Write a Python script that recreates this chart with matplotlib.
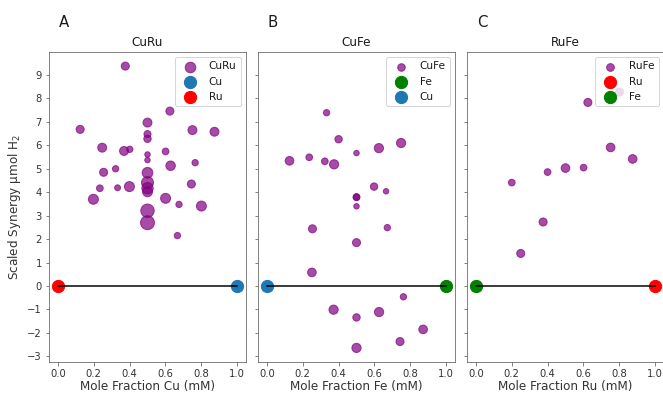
import matplotlib.pyplot as plt

# CuRu mixtures: mole fraction Cu, scaled synergy, marker size
curu_x = [0.376, 0.124, 0.5, 0.625, 0.751, 0.874, 0.5, 0.5, 0.247, 0.369, 0.401,
          0.601, 0.5, 0.5, 0.629, 0.766, 0.322, 0.255, 0.5, 0.5, 0.5, 0.5,
          0.745, 0.399, 0.333, 0.234, 0.198, 0.601, 0.676, 0.801, 0.5, 0.5, 0.667]
curu_y = [9.38, 6.68, 6.97, 7.46, 6.65, 6.58, 6.48, 6.28, 5.90, 5.76, 5.83,
          5.74, 5.61, 5.37, 5.13, 5.26, 5.00, 4.85, 4.83, 4.41, 4.17, 4.02,
          4.35, 4.24, 4.19, 4.17, 3.70, 3.74, 3.48, 3.41, 3.21, 2.70, 2.15]
curu_s = [65, 65, 80, 65, 80, 80, 50, 55, 80, 80, 40,
          45, 30, 30, 90, 40, 40, 65, 115, 145, 130, 100,
          65, 100, 35, 45, 100, 100, 40, 100, 180, 195, 40]

# CuFe mixtures: mole fraction Fe
cufe_x = [0.333, 0.40, 0.625, 0.749, 0.5, 0.126, 0.236, 0.323, 0.375, 0.598,
          0.665, 0.5, 0.5, 0.5, 0.254, 0.672, 0.5, 0.251, 0.762, 0.372,
          0.626, 0.5, 0.872, 0.743, 0.5]
cufe_y = [7.39, 6.26, 5.88, 6.10, 5.67, 5.34, 5.49, 5.32, 5.19, 4.24,
          4.04, 3.78, 3.80, 3.40, 2.44, 2.49, 1.85, 0.58, -0.46, -1.01,
          -1.11, -1.34, -1.85, -2.37, -2.64]
cufe_s = [40, 55, 85, 85, 30, 75, 45, 45, 85, 55,
          30, 45, 45, 30, 65, 40, 65, 75, 40, 85,
          85, 55, 75, 65, 85]

# RuFe mixtures: mole fraction Ru
rufe_x = [0.625, 0.801, 0.752, 0.875, 0.5, 0.601, 0.40, 0.20, 0.375, 0.25]
rufe_y = [7.83, 8.27, 5.91, 5.42, 5.03, 5.05, 4.86, 4.41, 2.73, 1.39]
rufe_s = [65, 65, 75, 75, 75, 45, 45, 45, 65, 65]

panels = [
    ('A', 'CuRu', 'Cu', curu_x, curu_y, curu_s, ('Cu', 'C0'), ('Ru', 'red')),
    ('B', 'CuFe', 'Fe', cufe_x, cufe_y, cufe_s, ('Fe', 'green'), ('Cu', 'C0')),
    ('C', 'RuFe', 'Ru', rufe_x, rufe_y, rufe_s, ('Ru', 'red'), ('Fe', 'green')),
]

plt.rcParams['axes.edgecolor'] = '0.4'
plt.rcParams['xtick.color'] = '0.4'
plt.rcParams['ytick.color'] = '0.4'
plt.rcParams['xtick.labelcolor'] = '0.2'
plt.rcParams['ytick.labelcolor'] = '0.2'
plt.rcParams['text.color'] = '0.1'
plt.rcParams['axes.labelcolor'] = '0.2'

fig = plt.figure(figsize=(663 / 72, 394 / 72), dpi=72)
lefts = [49, 258, 467]
axes = []
for i, left in enumerate(lefts):
    if i == 0:
        ax = fig.add_axes([left / 663, 32 / 394, 197 / 663, 310 / 394])
    else:
        ax = fig.add_axes([left / 663, 32 / 394, 197 / 663, 310 / 394], sharey=axes[0])
    axes.append(ax)

for ax, (letter, name, frac, x, y, s, one, zero) in zip(axes, panels):
    ax.scatter(x, y, s=s, color='purple', alpha=0.7, label=name)
    ax.scatter([1.0], [0.0], s=150, color=one[1], label=one[0])
    ax.scatter([0.0], [0.0], s=150, color=zero[1], label=zero[0])
    ax.plot([0, 1], [0, 0], color='black', lw=1.5)
    ax.set_title(name, fontsize=12)
    ax.set_xlabel('Mole Fraction %s (mM)' % frac, fontsize=12, labelpad=1)
    ax.set_xlim(-0.05, 1.05)
    ax.set_xticks([0.0, 0.2, 0.4, 0.6, 0.8, 1.0])
    ax.legend(loc='upper right', fontsize=10.5)
    ax.text(0.05, 1.08, letter, fontsize=15, transform=ax.transAxes)

axes[0].set_yticks(range(-3, 10))
axes[0].set_ylabel('Scaled Synergy μmol H$_2$', fontsize=12)
for ax in axes[1:]:
    ax.tick_params(labelleft=False)

fig.savefig('out.png', dpi=72)
